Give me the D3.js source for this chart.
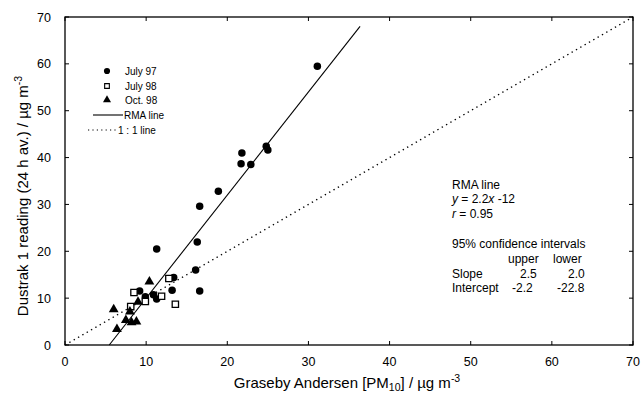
<!DOCTYPE html>
<html><head><meta charset="utf-8">
<script src="https://cdn.jsdelivr.net/npm/d3@7"></script>
<style>body{margin:0;background:#fff}svg{display:block;font-family:"Liberation Sans",Arial,sans-serif}</style>
</head><body><svg id="c" width="641" height="396"></svg>
<script>
const july97 = [[31.1,59.5],[21.8,41.0],[21.7,38.7],[22.9,38.5],[24.8,42.4],[25.0,41.6],[18.9,32.8],[16.6,29.6],[11.3,20.5],[16.3,22.0],[16.1,16.0],[16.6,11.5],[13.4,14.4],[13.2,11.7],[9.2,11.5],[9.9,10.3],[10.9,10.7],[11.3,9.8]];
const july98 = [[12.8,14.2],[8.5,11.2],[11.9,10.4],[9.9,9.3],[13.6,8.7],[8.1,8.2]];
const oct98 = [[10.4,13.5],[9.0,9.2],[6.0,7.6],[8.0,7.1],[7.5,5.3],[8.2,4.8],[8.8,5.0],[6.4,3.4]];
const rmaSlope = 2.2, rmaIntercept = -12;
const xTicks = [0,10,20,30,40,50,60,70];
const yTicks = [0,10,20,30,40,50,60,70];
const legendLabels = ["July 97","July 98","Oct. 98","RMA line","1 : 1 line"];
const statsLines = ["RMA line","y = 2.2x -12","r = 0.95","95% confidence intervals"];
const ciHeader = ["upper","lower"];
const ciRows = [["Slope","2.5","2.0"],["Intercept","-2.2","-22.8"]];

const svg = d3.select("#c");
const x = d3.scaleLinear().domain([0,70]).range([65,633]);
const y = d3.scaleLinear().domain([0,70]).range([345,17]);

// frame
svg.append("rect").attr("x",x(0)).attr("y",y(70)).attr("width",x(70)-x(0)).attr("height",y(0)-y(70))
  .attr("fill","none").attr("stroke","#000").attr("stroke-width",1.3);

// inward ticks
const g = svg.append("g").attr("stroke","#000").attr("stroke-width",1);
xTicks.forEach(t=>{
  g.append("line").attr("x1",x(t)).attr("x2",x(t)).attr("y1",y(0)).attr("y2",y(0)-4);
  g.append("line").attr("x1",x(t)).attr("x2",x(t)).attr("y1",y(70)).attr("y2",y(70)+4);
});
yTicks.forEach(t=>{
  g.append("line").attr("y1",y(t)).attr("y2",y(t)).attr("x1",x(0)).attr("x2",x(0)+4);
  g.append("line").attr("y1",y(t)).attr("y2",y(t)).attr("x1",x(70)).attr("x2",x(70)-4);
});

// tick labels
svg.append("g").selectAll("text").data(xTicks).join("text")
  .attr("x",d=>x(d)).attr("y",366).attr("text-anchor","middle").attr("font-size",12.5).text(d=>d);
svg.append("g").selectAll("text").data(yTicks).join("text")
  .attr("x",51).attr("y",d=>y(d)+4.5).attr("text-anchor","end").attr("font-size",12.5).text(d=>d);

// axis titles
const xt = svg.append("text").attr("x",347).attr("y",388).attr("text-anchor","middle").attr("font-size",15);
xt.append("tspan").text("Graseby Andersen [PM");
xt.append("tspan").attr("font-size",10.5).attr("dy",3).text("10");
xt.append("tspan").attr("dy",-3).text("] / µg m");
xt.append("tspan").attr("font-size",10.5).attr("dy",-6.5).text("-3");
const yt = svg.append("text").attr("transform","translate(28,196) rotate(-90)").attr("text-anchor","middle").attr("font-size",15);
yt.append("tspan").text("Dustrak 1 reading (24 h av.) / µg m");
yt.append("tspan").attr("font-size",10.5).attr("dy",-6.5).text("-3");

// 1:1 line
svg.append("line").attr("x1",x(0)).attr("y1",y(0)).attr("x2",x(70)).attr("y2",y(70))
  .attr("stroke","#000").attr("stroke-width",1.4).attr("stroke-dasharray","1.4,3.6");
// RMA line
const x0 = -rmaIntercept/rmaSlope, x1 = (68 - rmaIntercept)/rmaSlope;
svg.append("line").attr("x1",x(x0)).attr("y1",y(0)).attr("x2",x(x1)).attr("y2",y(rmaSlope*x1+rmaIntercept))
  .attr("stroke","#000").attr("stroke-width",1.1);

// points
const circ = d3.symbol().type(d3.symbolCircle).size(44);
const sq = d3.symbol().type(d3.symbolSquare).size(40);
const tri = d3.symbol().type(d3.symbolTriangle).size(42);
svg.append("g").selectAll("path").data(july97).join("path")
  .attr("transform",d=>`translate(${x(d[0])},${y(d[1])})`).attr("d",circ).attr("fill","#000");
svg.append("g").selectAll("path").data(july98).join("path")
  .attr("transform",d=>`translate(${x(d[0])},${y(d[1])})`).attr("d",sq).attr("fill","#fff").attr("stroke","#000").attr("stroke-width",1.3);
svg.append("g").selectAll("path").data(oct98).join("path")
  .attr("transform",d=>`translate(${x(d[0])},${y(d[1])})`).attr("d",tri).attr("fill","#000");

// legend
const lg = svg.append("g").attr("font-size",10);
const ly = [71,86,100,115,130];
lg.append("path").attr("transform",`translate(107,${ly[0]})`).attr("d",d3.symbol().type(d3.symbolCircle).size(30)).attr("fill","#000");
lg.append("path").attr("transform",`translate(107,${ly[1]})`).attr("d",d3.symbol().type(d3.symbolSquare).size(22)).attr("fill","#fff").attr("stroke","#000").attr("stroke-width",1.1);
lg.append("path").attr("transform",`translate(107,${ly[2]})`).attr("d",d3.symbol().type(d3.symbolTriangle).size(28)).attr("fill","#000");
lg.append("line").attr("x1",93).attr("x2",123).attr("y1",ly[3]).attr("y2",ly[3]).attr("stroke","#000").attr("stroke-width",1.1);
lg.append("line").attr("x1",88).attr("x2",117).attr("y1",ly[4]).attr("y2",ly[4]).attr("stroke","#000").attr("stroke-width",1.2).attr("stroke-dasharray","1.2,3.2");
const lx = [125,125,125,124,118];
legendLabels.forEach((t,i)=>lg.append("text").attr("x",lx[i]).attr("y",ly[i]+3.5).text(t));

// stats annotation
const sg = svg.append("g").attr("font-size",12);
const sy = [189,203,218,248];
statsLines.forEach((t,i)=>{
  const tx = sg.append("text").attr("x",452).attr("y",sy[i]);
  if(i===1){ tx.append("tspan").attr("font-style","italic").text("y"); tx.append("tspan").text(" = 2.2"); tx.append("tspan").attr("font-style","italic").text("x"); tx.append("tspan").text(" -12"); }
  else if(i===2){ tx.append("tspan").attr("font-style","italic").text("r"); tx.append("tspan").text(" = 0.95"); }
  else tx.text(t);
});
sg.append("text").attr("x",508).attr("y",263).text(ciHeader[0]);
sg.append("text").attr("x",553).attr("y",263).text(ciHeader[1]);
ciRows.forEach((r,i)=>{
  const yy = 278 + i*14;
  sg.append("text").attr("x",452).attr("y",yy).text(r[0]);
  sg.append("text").attr("x",i===0?520:512).attr("y",yy).text(r[1]);
  sg.append("text").attr("x",i===0?568:557).attr("y",yy).text(r[2]);
});
</script></body></html>
